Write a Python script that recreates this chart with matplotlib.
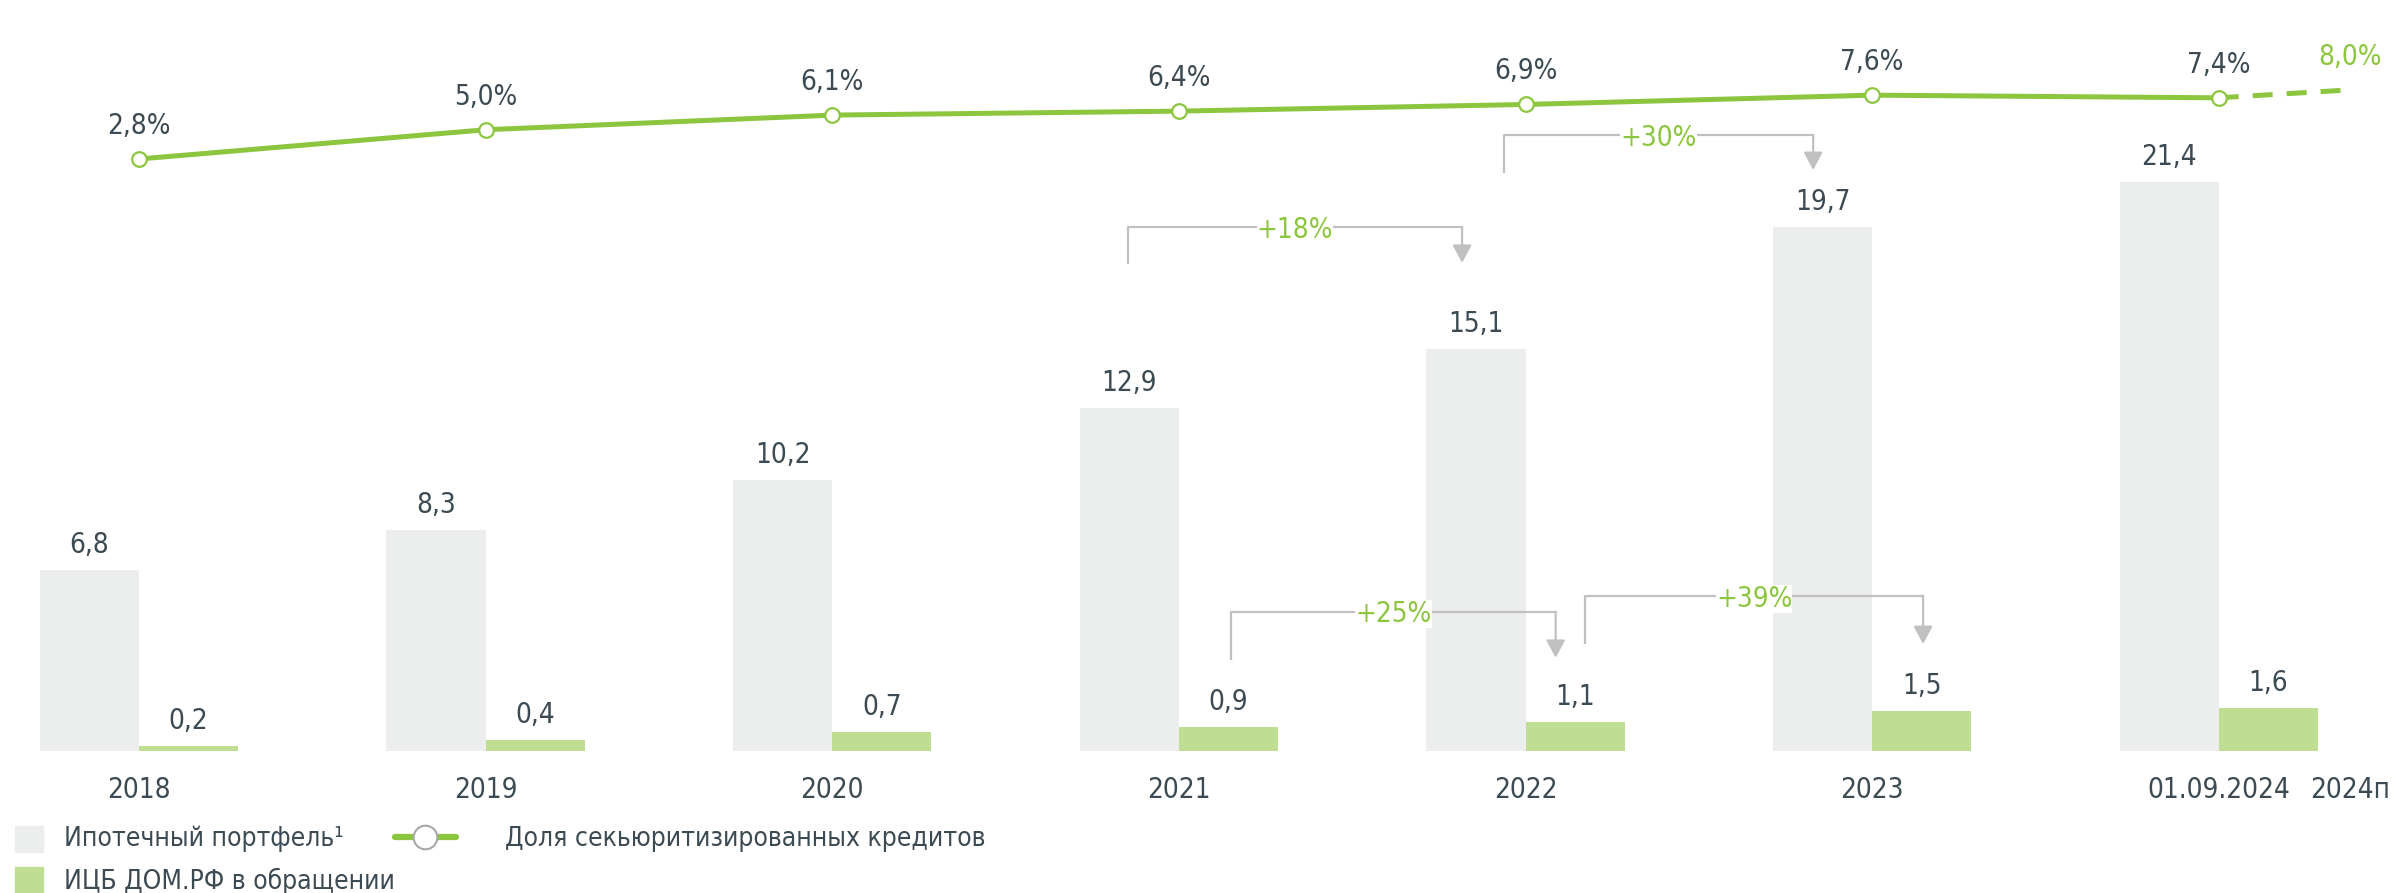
import numpy as np
import matplotlib
matplotlib.use("Agg")
import matplotlib.pyplot as plt
from matplotlib.patches import Rectangle
from matplotlib.lines import Line2D

years = ["2018", "2019", "2020", "2021", "2022", "2023", "01.09.2024"]
forecast_label = "2024п"
portfolio = [6.8, 8.3, 10.2, 12.9, 15.1, 19.7, 21.4]
mbs = [0.2, 0.4, 0.7, 0.9, 1.1, 1.5, 1.6]
share = [2.8, 5.0, 6.1, 6.4, 6.9, 7.6, 7.4]
share_forecast = 8.0
growth_labels = ["+18%", "+30%", "+25%", "+39%"]

legend_labels = ["Ипотечный портфель¹", "Доля секьюритизированных кредитов",
                 "ИЦБ ДОМ.РФ в обращении"]

GREY = "#eceeed"
LIGHT_GREEN = "#bfde94"
GREEN = "#8cc63f"
TEXT = "#3b4a53"
BRACKET = "#c0c0c0"
FONT = dict(family="DejaVu Sans", fontstretch="condensed", fontsize=20, color=TEXT)
LEG_FONT = {**FONT, "fontsize": 19}

# bracket geometry: x left, x right, y bottom of left leg, y of top, y of arrow tip
brackets = [
    (2.853, 3.817, 18.35, 19.70, 18.35),
    (3.938, 4.830, 21.77, 23.16, 21.84),
    (3.151, 4.087, 3.46, 5.23, 3.50),
    (4.172, 5.147, 4.06, 5.83, 4.02),
]
FORECAST_X = 6.38

W, H = 2399, 893
fig = plt.figure(figsize=(W / 100, H / 100), dpi=100)
ax = fig.add_axes([0, 0, 1, 1])
ax.set_xlim(-0.401, 6.520)
ax.set_ylim(-5.34, 28.23)
ax.axis("off")

x = np.arange(len(years))
bw = 0.286
ax.bar(x - bw / 2, portfolio, bw, color=GREY, zorder=1)
ax.bar(x + bw / 2, mbs, bw, color=LIGHT_GREEN, zorder=1)

for xi, v in zip(x, portfolio):
    ax.annotate(f"{v:.1f}".replace(".", ","), (xi - bw / 2, v), xytext=(0, 25),
                textcoords="offset pixels", ha="center", va="center", **FONT)
for xi, v in zip(x, mbs):
    ax.annotate(f"{v:.1f}".replace(".", ","), (xi + bw / 2, v), xytext=(0, 25),
                textcoords="offset pixels", ha="center", va="center", **FONT)

for xi, lab in zip(x, years):
    ax.text(xi, -1.47, lab, ha="center", va="center", **FONT)
ax.text(FORECAST_X, -1.47, forecast_label, ha="center", va="center", **FONT)

# growth brackets
for (xl, xr, yb, yt, ytip), lab in zip(brackets, growth_labels):
    ax.plot([xl, xl, xr], [yb, yt, yt], color=BRACKET, lw=1.6, zorder=2)
    ax.annotate("", xy=(xr, ytip), xytext=(xr, yt),
                arrowprops=dict(arrowstyle="-|>,head_length=0.54,head_width=0.29",
                                mutation_scale=20, color=BRACKET, lw=1.6,
                                shrinkA=0, shrinkB=0), zorder=2)
    ax.text((xl + xr) / 2, yt - 0.1, lab, ha="center", va="center", zorder=3,
            bbox=dict(facecolor="white", edgecolor="none", pad=0),
            **{**FONT, "color": GREEN})

# share line on its own scale
ax2 = ax.twinx()
ax2.set_ylim(-52.39, 14.755)
ax2.axis("off")
ax2.plot([x[-1], FORECAST_X], [share[-1], share_forecast], color=GREEN, lw=3.6,
         ls=(0, (4, 2.8)), solid_capstyle="butt", zorder=3)
ax2.plot(x, share, color=GREEN, lw=3.6, marker="o", ms=10.5, mfc="white",
         mec=GREEN, mew=1.6, zorder=4)
for xi, v in zip(x, share):
    ax2.annotate(f"{v:.1f}%".replace(".", ","), (xi, v), xytext=(0, 33),
                 textcoords="offset pixels", ha="center", va="center", **FONT)
ax2.annotate(f"{share_forecast:.1f}%".replace(".", ","), (FORECAST_X, share_forecast),
             xytext=(0, 33), textcoords="offset pixels", ha="center", va="center",
             **{**FONT, "color": GREEN})


# legend drawn in figure pixels
def fx(px):
    return px / W


def fy(py):
    return 1 - py / H


fig.add_artist(Rectangle((fx(15), fy(852)), 28 / W, 26 / H, transform=fig.transFigure,
                         color=GREY))
fig.add_artist(Rectangle((fx(15), fy(893)), 28 / W, 26 / H, transform=fig.transFigure,
                         color=LIGHT_GREEN))
fig.add_artist(Line2D([fx(395), fx(456)], [fy(837), fy(837)], transform=fig.transFigure,
                      color=GREEN, lw=4.5, solid_capstyle="round"))
fig.add_artist(Line2D([fx(425)], [fy(837)], transform=fig.transFigure, marker="o", ms=17,
                      mfc="white", mec="#a8a8a8", mew=1.5))
fig.text(fx(64), fy(839), legend_labels[0], ha="left", va="center", **LEG_FONT)
fig.text(fx(505), fy(839), legend_labels[1], ha="left", va="center", **LEG_FONT)
fig.text(fx(64), fy(881), legend_labels[2], ha="left", va="center", **LEG_FONT)

fig.savefig("out.png", dpi=100, facecolor="white")
